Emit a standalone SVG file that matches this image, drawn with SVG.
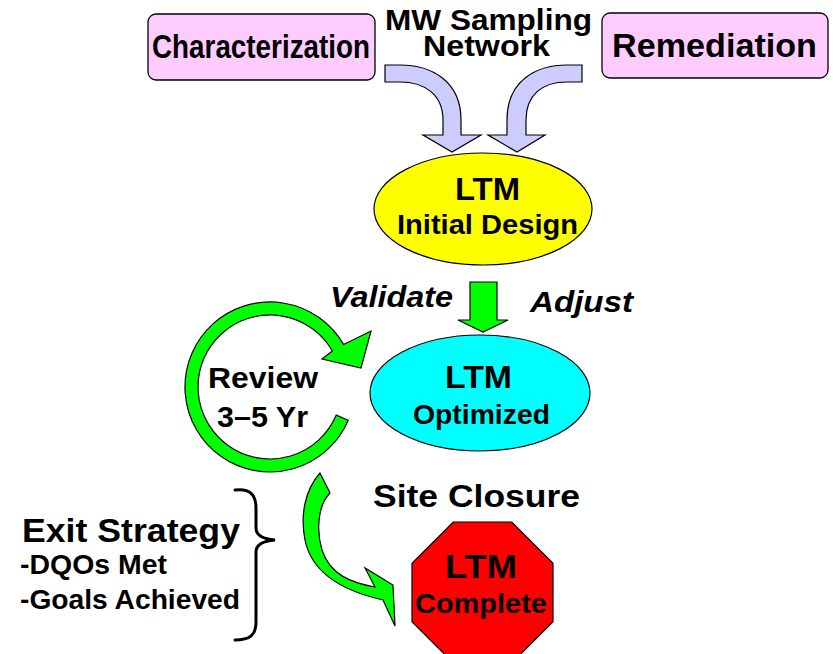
<svg xmlns="http://www.w3.org/2000/svg" width="833" height="654" viewBox="0 0 833 654">
<style>
text{font-family:"Liberation Sans",Arial,Helvetica,sans-serif;font-weight:bold;fill:#000}
.it{font-style:italic}
.box{fill:#FFCCFF;stroke:#000;stroke-width:1.3}
.shape{stroke:#000;stroke-width:1.2}
.lav{fill:#CCCCFF;stroke:#000;stroke-width:1.2;stroke-linejoin:miter}
.grn{fill:#00FF00;stroke:#000;stroke-width:1.2;stroke-linejoin:miter}
.brace{fill:none;stroke:#000;stroke-width:3;stroke-linecap:round}
</style>
<rect width="833" height="654" fill="#fff"/>
<g id="characterization">
<rect class="box" x="148" y="14" width="227" height="66" rx="8"/>
<text x="152" y="58" font-size="33" textLength="218" lengthAdjust="spacingAndGlyphs">Characterization</text>
</g>
<g id="remediation">
<rect class="box" x="602" y="13" width="226" height="65" rx="8"/>
<text x="612" y="57" font-size="34" textLength="205" lengthAdjust="spacingAndGlyphs">Remediation</text>
</g>
<g id="mw-network">
<text x="385" y="30" font-size="29" textLength="207" lengthAdjust="spacingAndGlyphs">MW Sampling</text>
<text x="423" y="56" font-size="29" textLength="127" lengthAdjust="spacingAndGlyphs">Network</text>
</g>
<g id="connectors">
<path class="lav" d="M385,65 L400,65 C430,65 461,80 461,120 L461,135 L481,135 L452,152 L423,135 L443,135 L443,120 C443,95 425,82 400,82 L385,82 Z"/>
<path class="lav" d="M582,65 L567,65 C537,65 507,80 507,120 L507,135 L488,135 L517,152 L545,135 L526,135 L526,120 C526,95 542,82 567,82 L582,82 Z"/>
<path class="grn" d="M470,282 L497,282 L497,320 L508,320 L483,332 L458,320 L470,320 Z"/>
<path class="grn" d="M348.2,420.2 A85,85 0 1 1 343.6,344.5 L371,331 L361,368 L322,359 L332.4,351 A72,72 0 1 0 336.3,415.1 Z"/>
<path class="grn" d="M320,473 C305,490 300,515 305,540 C310,565 330,588 383,600 L395,626 L393,585 L365,568 L375,587 C352,583 330,575 322,550 C316,530 318,505 330,493 Z"/>
</g>
<g id="ltm-initial">
<ellipse class="shape" cx="483" cy="209" rx="109" ry="56" fill="#FFFF00"/>
<text x="455" y="200" font-size="31" textLength="65" lengthAdjust="spacingAndGlyphs">LTM</text>
<text x="397" y="234" font-size="27" textLength="181" lengthAdjust="spacingAndGlyphs">Initial Design</text>
</g>
<g id="labels">
<text class="it" x="330" y="307" font-size="29" textLength="123" lengthAdjust="spacingAndGlyphs">Validate</text>
<text class="it" x="530" y="312" font-size="29" textLength="103" lengthAdjust="spacingAndGlyphs">Adjust</text>
</g>
<g id="ltm-optimized">
<ellipse class="shape" cx="480" cy="393" rx="110" ry="58" fill="#00FFFF"/>
<text x="445" y="388" font-size="31" textLength="67" lengthAdjust="spacingAndGlyphs">LTM</text>
<text x="413" y="424" font-size="27" textLength="137" lengthAdjust="spacingAndGlyphs">Optimized</text>
</g>
<g id="review">
<text x="208" y="388" font-size="29" textLength="110" lengthAdjust="spacingAndGlyphs">Review</text>
<text x="217" y="427" font-size="29" textLength="91" lengthAdjust="spacingAndGlyphs">3–5 Yr</text>
</g>
<g id="site-closure">
<text x="373" y="507" font-size="32" textLength="207" lengthAdjust="spacingAndGlyphs">Site Closure</text>
</g>
<g id="ltm-complete">
<polygon class="shape" fill="#FF0000" points="453.3,522 511.7,522 553,563.3 553,621.7 511.7,663 453.3,663 412,621.7 412,563.3"/>
<text x="445" y="578" font-size="33" textLength="72" lengthAdjust="spacingAndGlyphs">LTM</text>
<text x="415" y="613" font-size="27" textLength="132" lengthAdjust="spacingAndGlyphs">Complete</text>
</g>
<g id="exit-strategy">
<text x="22" y="542" font-size="33" textLength="218" lengthAdjust="spacingAndGlyphs">Exit Strategy</text>
<text x="20" y="574" font-size="27" textLength="147" lengthAdjust="spacingAndGlyphs">-DQOs Met</text>
<text x="20" y="609" font-size="27" textLength="220" lengthAdjust="spacingAndGlyphs">-Goals Achieved</text>
<path class="brace" d="M235,490 C250,488 256,495 256,508 L256,528 C256,535 262,539 275,540 C262,541 256,545 256,552 L256,622 C256,635 250,640 235,640"/>
</g>
</svg>
